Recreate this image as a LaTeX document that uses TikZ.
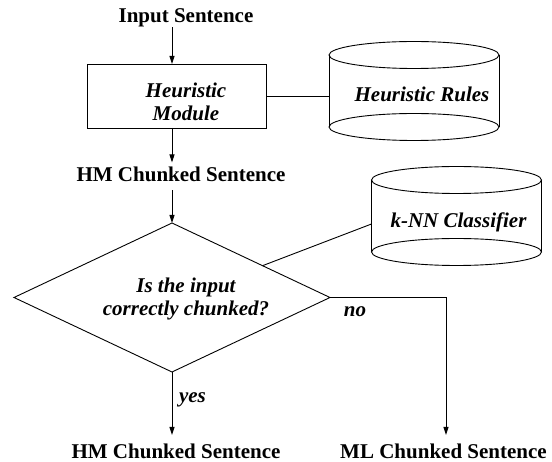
\documentclass[tikz,border=0pt]{standalone}
\usepackage{fontspec}
\setmainfont{Liberation Serif}
\usetikzlibrary{arrows.meta,shapes.geometric,calc}

% outline of a vertical drum (database) drawn around an empty node
\newcommand\drawdrum[1]{%
  \draw (#1.north west) -- (#1.south west);
  \draw (#1.north east) -- (#1.south east);
  \draw (#1.north) ellipse [x radius=85pt, y radius=13.5pt];
  \draw (#1.south) ellipse [x radius=85pt, y radius=13.5pt];
}

\begin{document}
\begin{tikzpicture}[x=1pt,y=-1pt,
  line width=0.9pt,
  every node/.style={inner sep=0pt, outer sep=0pt,
    font=\fontsize{21}{23}\selectfont\bfseries},
  lbl/.style={anchor=base},
  it/.style={font=\fontsize{21}{23}\selectfont\bfseries\itshape},
  arr/.style={-{Triangle[length=8pt,width=5pt]}},
  drum/.style={minimum width=170pt, minimum height=72pt},
]
\useasboundingbox (0,0) rectangle (552,462);

\coordinate (spine) at (172,0);

% main flow
\node[lbl] (inp) at (186,23) {Input Sentence};
\node[draw, minimum width=179pt, minimum height=64pt] (hm) at (176.5,96) {};
\node[it, align=center] (hmtext) at (186,101.4) {Heuristic\\Module};
\node[lbl] (mid) at (181,182) {HM Chunked Sentence};
\node[draw, diamond, minimum width=316pt, minimum height=149pt] (dia) at (172,297.5) {};
\node[it, align=center] (q) at (186,298.6) {Is the input\\correctly chunked?};
\node[lbl] (out1) at (176,458.5) {HM Chunked Sentence};
\node[lbl] (out2) at (443.5,458.5) {ML Chunked Sentence};
\coordinate (elbow) at (446,297.5);

% knowledge sources
\node[drum] (rules) at (414,91) {};
\drawdrum{rules}
\node[it, lbl] (rulestext) at (422,102) {Heuristic Rules};
\node[drum] (knn) at (456.5,216) {};
\drawdrum{knn}
\node[it, lbl] (knntext) at (458.5,228) {k-NN Classifier};

% branch labels
\node[it, lbl] (no) at (355,317) {no};
\node[it, lbl] (yes) at (192.5,403) {yes};

% connectors
\draw[arr] (inp.south -| spine) -- (hm.north -| spine);
\draw (hm.east) -- (hm.east -| rules.west);
\draw[arr] (hm.south -| spine) -- ([yshift=5pt]mid.north -| spine);
\draw[arr] ([yshift=-8pt]mid.south -| dia.north) -- (dia.north);
\coordinate (tap) at ($(dia.north)!0.573!(dia.east)$);
\draw (tap) -- ([yshift=-8pt]knn.west);
\draw[arr] (dia.south) -- ([yshift=9pt]out1.north -| dia.south);
\draw[arr] (dia.east) -- (elbow) -- ([yshift=9pt]out2.north -| elbow);
\end{tikzpicture}
\end{document}
